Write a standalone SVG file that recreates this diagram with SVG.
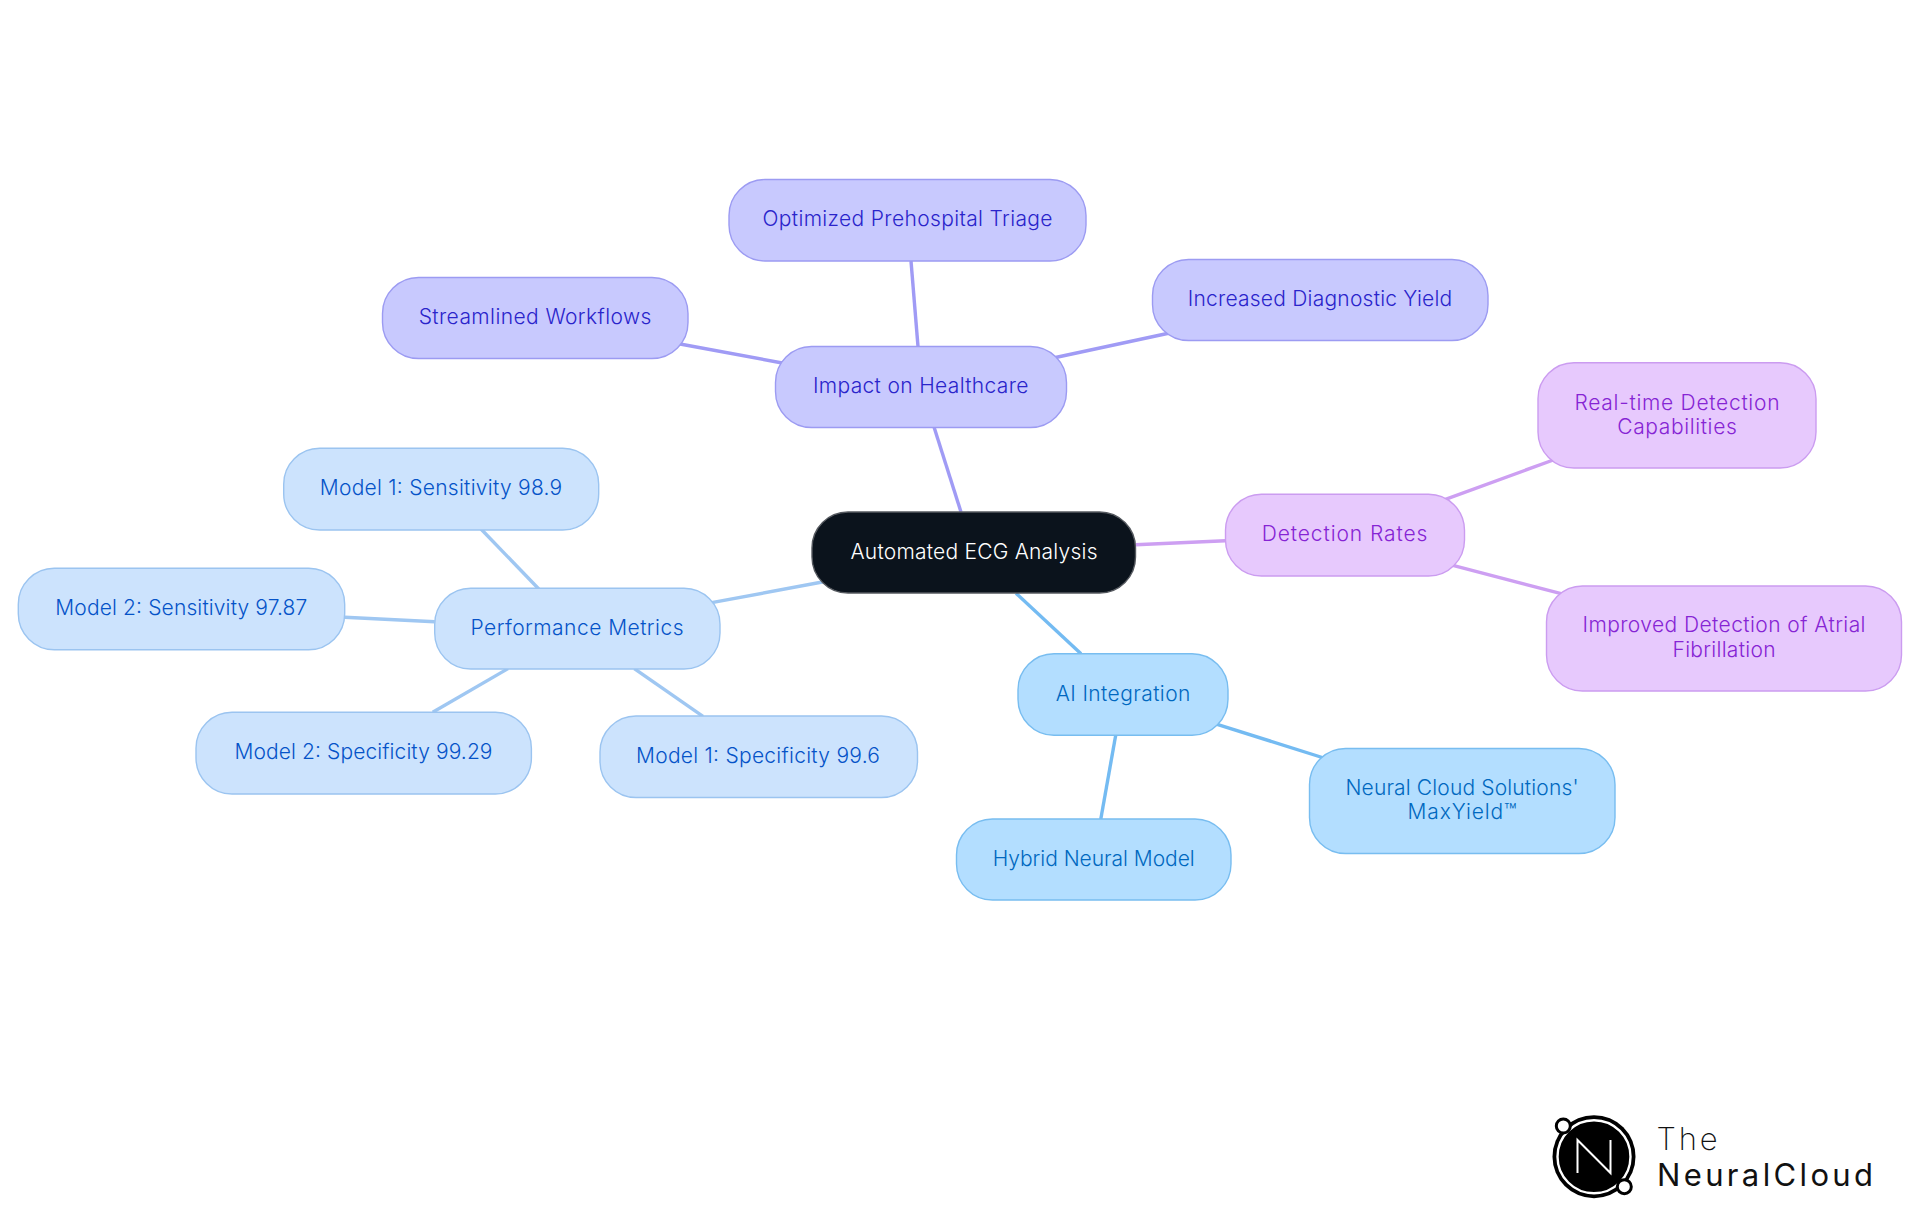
<svg xmlns="http://www.w3.org/2000/svg" width="1920" height="1215" viewBox="0 0 1920 1215">
<style>
text{font-family:"Inter","Noto Sans","Liberation Sans",sans-serif;font-size:21px;font-weight:300;text-anchor:middle}
rect{stroke-width:1.4}
.c line{stroke-width:3.4;fill:none}
.cp line{stroke:#9fc7f2}.ca line{stroke:#74bbf2}.ci line{stroke:#a09bf5}.cd line{stroke:#cd9ff2}
.p rect{fill:#cce3fd;stroke:#9bc4f0}.p text{fill:#0553c8}
.a rect{fill:#b3deff;stroke:#78bdf0}.a text{fill:#0068c0}
.i rect{fill:#c8c9fe;stroke:#9c9bf2}.i text{fill:#2a24cb}
.d rect{fill:#e7c9fd;stroke:#cb9cf0}.d text{fill:#8624d4}
</style>
<rect width="1920" height="1215" fill="#fff" style="stroke:none"/>
<g id="connectors" class="c">
<g class="ci">
<line x1="934" y1="427" x2="961" y2="512"/>
<line x1="680" y1="344" x2="785" y2="363.5"/>
<line x1="911" y1="261" x2="918" y2="346.5"/>
<line x1="1055.5" y1="357.5" x2="1172" y2="332.5"/>
</g>
<g class="cd">
<line x1="1135.7" y1="544.7" x2="1225.3" y2="540.7"/>
<line x1="1442" y1="500.6" x2="1556" y2="459"/>
<line x1="1450" y1="564.7" x2="1565" y2="594.6"/>
</g>
<g class="ca">
<line x1="1016" y1="593.3" x2="1081" y2="653.7"/>
<line x1="1214" y1="723.3" x2="1327" y2="759"/>
<line x1="1115.7" y1="735.3" x2="1100.8" y2="819"/>
</g>
<g class="cp">
<line x1="825" y1="581.5" x2="709" y2="603.2"/>
<line x1="481" y1="529" x2="538.8" y2="589"/>
<line x1="344.7" y1="617.3" x2="434.7" y2="621.7"/>
<line x1="432.7" y1="712.3" x2="508" y2="668.6"/>
<line x1="634.3" y1="668.6" x2="703" y2="716.3"/>
</g>
</g>
<g id="root"><rect x="812" y="512" width="323.5" height="81" rx="36" fill="#0b131c" stroke="#55595f"/><text x="974" y="558.5" fill="#fff" textLength="247">Automated ECG Analysis</text></g>
<g id="perf" class="p"><rect x="434.7" y="588.3" width="285.3" height="80.7" rx="36"/><text x="577" y="634.7" textLength="213">Performance Metrics</text></g>
<g id="m1sens" class="p"><rect x="283.7" y="448.3" width="315" height="81.7" rx="36"/><text x="441" y="495.3" textLength="242.5">Model 1: Sensitivity 98.9</text></g>
<g id="m2sens" class="p"><rect x="18.3" y="568.3" width="326.4" height="81.4" rx="36"/><text x="181.3" y="615" textLength="252">Model 2: Sensitivity 97.87</text></g>
<g id="m2spec" class="p"><rect x="196" y="712.3" width="335.4" height="81.7" rx="36"/><text x="363.5" y="758.8" textLength="258">Model 2: Specificity 99.29</text></g>
<g id="m1spec" class="p"><rect x="600" y="716" width="317.5" height="81.5" rx="36"/><text x="758" y="762.6" textLength="244">Model 1: Specificity 99.6</text></g>
<g id="ai" class="a"><rect x="1018" y="653.7" width="210" height="81.6" rx="36"/><text x="1123" y="700.6" textLength="134.7">AI Integration</text></g>
<g id="hybrid" class="a"><rect x="956.5" y="819" width="274.5" height="81" rx="36"/><text x="1093.7" y="865.5" textLength="202">Hybrid Neural Model</text></g>
<g id="neural" class="a"><rect x="1309.5" y="748.5" width="305.5" height="105" rx="36"/><text x="1462" y="794.5" textLength="233">Neural Cloud Solutions'</text><text x="1462" y="819" textLength="109">MaxYield™</text></g>
<g id="impact" class="i"><rect x="775.5" y="346.5" width="291" height="81" rx="36"/><text x="920.7" y="392.8" textLength="215.5">Impact on Healthcare</text></g>
<g id="streamlined" class="i"><rect x="382.5" y="277.5" width="305.5" height="81" rx="36"/><text x="535" y="323.8" textLength="232.7">Streamlined Workflows</text></g>
<g id="optimized" class="i"><rect x="729" y="179.5" width="357" height="81.5" rx="36"/><text x="907.5" y="225.8" textLength="290">Optimized Prehospital Triage</text></g>
<g id="increased" class="i"><rect x="1152.5" y="259.5" width="335.5" height="81" rx="36"/><text x="1320" y="305.8" textLength="264.5">Increased Diagnostic Yield</text></g>
<g id="detection" class="d"><rect x="1225.5" y="494.3" width="239" height="81.7" rx="36"/><text x="1344.5" y="541.2" textLength="165.7">Detection Rates</text></g>
<g id="realtime" class="d"><rect x="1538" y="362.7" width="278" height="105.3" rx="36"/><text x="1677" y="409.7" textLength="205">Real-time Detection</text><text x="1677" y="433.8" textLength="119.5">Capabilities</text></g>
<g id="improved" class="d"><rect x="1546.5" y="586" width="355" height="105" rx="36"/><text x="1724" y="632.3" textLength="283">Improved Detection of Atrial</text><text x="1724" y="656.6" textLength="103">Fibrillation</text></g>
<g id="logo">
<circle cx="1594" cy="1156.7" r="41.5" fill="#000"/>
<circle cx="1594" cy="1156.7" r="36.5" fill="none" stroke="#fff" stroke-width="2.4"/>
<path d="M1577.5 1173V1140L1610.5 1173V1140" fill="none" stroke="#fff" stroke-width="2"/>
<circle cx="1563.3" cy="1126" r="7" fill="#fff" stroke="#000" stroke-width="3"/>
<circle cx="1624.3" cy="1186.7" r="7" fill="#fff" stroke="#000" stroke-width="3"/>
<text x="1656.5" y="1150" textLength="61" style="font-size:31px;font-weight:200;text-anchor:start;fill:#111">The</text>
<text x="1657" y="1186" textLength="216" style="font-size:31px;font-weight:400;text-anchor:start;fill:#111">NeuralCloud</text>
</g>
</svg>
